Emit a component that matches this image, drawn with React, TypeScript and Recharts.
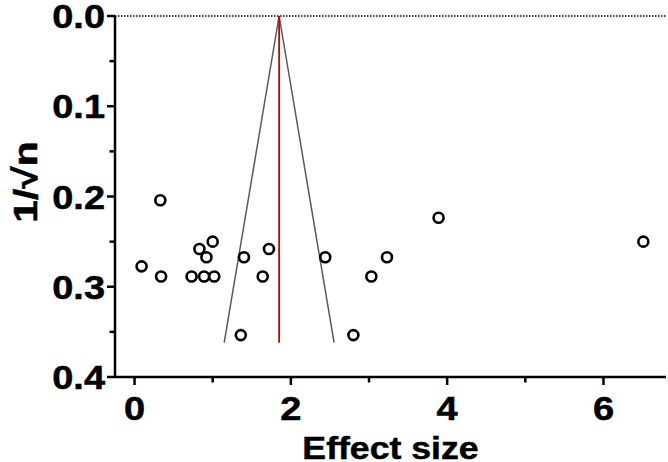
import React from 'react';
import { ComposedChart, Scatter, XAxis, YAxis, ReferenceLine, Label } from 'recharts';

// Study points: effect size vs 1/sqrt(n)
const effectSizes = [0.33, 0.09, 0.34, 0.73, 0.89, 1.02, 0.83, 1.0, 0.92, 1.4, 1.72, 1.64, 1.36, 2.44, 2.8, 3.03, 3.23, 3.89, 6.51];
const invSqrtN = [0.2041, 0.2774, 0.2887, 0.2887, 0.2887, 0.2887, 0.2582, 0.25, 0.2673, 0.2673, 0.2582, 0.2887, 0.3536, 0.2673, 0.3536, 0.2887, 0.2673, 0.2236, 0.25];

const pooledEffect = 1.85;
const funnelBaseY = 0.362;
const funnelLeftX = 1.147;
const funnelRightX = 2.553;

const xTicks = [0, 1, 2, 3, 4, 5, 6];
const yTicks = [0, 0.05, 0.1, 0.15, 0.2, 0.25, 0.3, 0.35, 0.4];
const xMajorLabels = [0, 2, 4, 6];

const points = effectSizes.map((x, i) => ({ x, y: invSqrtN[i] }));

const FONT = '"Liberation Sans", Arial, Helvetica, sans-serif';

const YTick = (props: any) => {
  const { x, y, payload } = props;
  const v = payload.value as number;
  const major = Math.abs(v * 10 - Math.round(v * 10)) < 1e-6;
  return (
    <g>
      <line x1={x - (major ? 8 : 5.5)} x2={x} y1={y} y2={y} stroke="#000" strokeWidth={2.5} />
      {major && (
        <text
          transform={`translate(${x - 10},${y + 12}) scale(1.15,1)`}
          textAnchor="end"
          fontFamily={FONT}
          fontWeight="bold"
          fontSize={33}
          fill="#000"
          stroke="#000"
          strokeWidth={0.5}
        >
          {v.toFixed(1)}
        </text>
      )}
    </g>
  );
};

const XTick = (props: any) => {
  const { x, y, payload } = props;
  const v = payload.value as number;
  const major = xMajorLabels.includes(v);
  return (
    <g>
      <line x1={x} x2={x} y1={y} y2={y + (major ? 8 : 5.5)} stroke="#000" strokeWidth={2.5} />
      {major && (
        <text
          transform={`translate(${x},${y + 43.3}) scale(1.12,1)`}
          textAnchor="middle"
          fontFamily={FONT}
          fontWeight="bold"
          fontSize={34}
          fill="#000"
          stroke="#000"
          strokeWidth={0.5}
        >
          {String(v)}
        </text>
      )}
    </g>
  );
};

const OpenCircle = (props: any) => {
  const { cx, cy } = props;
  return <circle cx={cx} cy={cy} r={5} fill="#fff" stroke="#000" strokeWidth={2.6} />;
};

export default function App() {
  return (
    <div style={{ position: 'absolute', left: 0, top: 0, width: 668, height: 462, background: '#fff' }}>
      <ComposedChart width={668} height={462} margin={{ top: 16, right: 2, bottom: 0, left: 0 }}>
        <XAxis
          type="number"
          dataKey="x"
          domain={[-0.25, 6.8]}
          ticks={xTicks}
          interval={0}
          allowDataOverflow
          height={85}
          tickSize={0}
          tickMargin={0}
          tickLine={false}
          axisLine={{ stroke: '#000', strokeWidth: 2.5 }}
          tick={<XTick />}
        >
          <Label
            content={() => (
              <text
                transform="translate(390.5,459) scale(1.15,1)"
                textAnchor="middle"
                fontFamily={FONT}
                fontWeight="bold"
                fontSize={31}
                fill="#000"
                stroke="#000"
                strokeWidth={0.5}
              >
                Effect size
              </text>
            )}
          />
        </XAxis>
        <YAxis
          type="number"
          dataKey="y"
          domain={[0, 0.4]}
          reversed
          ticks={yTicks}
          interval={0}
          allowDataOverflow
          width={115}
          tickSize={0}
          tickMargin={0}
          tickLine={false}
          axisLine={{ stroke: '#000', strokeWidth: 2.5 }}
          tick={<YTick />}
        >
          <Label
            content={() => (
              <text
                transform="translate(36.5,182) rotate(-90) scale(1.2,1)"
                textAnchor="middle"
                fontFamily={FONT}
                fontWeight="bold"
                fontSize={34}
                fill="#000"
                stroke="#000"
                strokeWidth={0.5}
              >
                1/√n
              </text>
            )}
          />
        </YAxis>
        <ReferenceLine y={0} stroke="#000" strokeWidth={1.5} strokeDasharray="1.5 1.5" />
        <ReferenceLine
          segment={[{ x: pooledEffect, y: 0 }, { x: funnelLeftX, y: funnelBaseY }]}
          stroke="#5a5a5a"
          strokeWidth={1.5}
        />
        <ReferenceLine
          segment={[{ x: pooledEffect, y: 0 }, { x: funnelRightX, y: funnelBaseY }]}
          stroke="#5a5a5a"
          strokeWidth={1.5}
        />
        <ReferenceLine
          segment={[{ x: pooledEffect, y: 0 }, { x: pooledEffect, y: funnelBaseY }]}
          stroke="#cc0000"
          strokeWidth={1.8}
        />
        <Scatter data={points} dataKey="y" shape={<OpenCircle />} isAnimationActive={false} />
      </ComposedChart>
    </div>
  );
}
